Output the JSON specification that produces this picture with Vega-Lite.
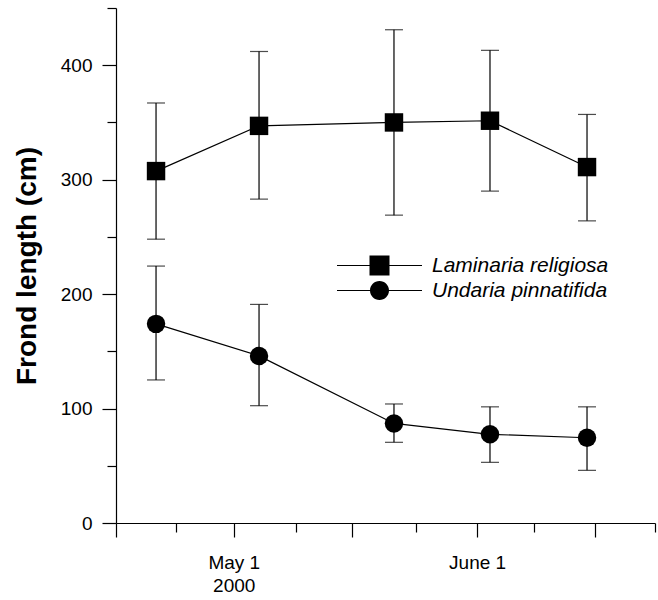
{
  "$schema": "https://vega.github.io/schema/vega-lite/v6.json",
  "autosize": "none",
  "width": 539,
  "height": 515,
  "padding": {"left": 116, "top": 8, "right": 3, "bottom": 77},
  "background": "white",
  "config": {
    "view": {"stroke": null},
    "axis": {"grid": false, "domainColor": "black", "domainWidth": 1.2, "tickColor": "black", "tickWidth": 1.2, "labelFont": "Liberation Sans", "labelColor": "black", "titleFont": "Liberation Sans", "titleColor": "black"}
  },
  "data": {"values": [
    {"species": "Laminaria religiosa", "date": "2000-04-21T02:24:00Z", "mean": 307.5, "lo": 248, "hi": 367},
    {"species": "Laminaria religiosa", "date": "2000-05-04T05:17:00Z", "mean": 347, "lo": 283, "hi": 412},
    {"species": "Laminaria religiosa", "date": "2000-05-21T09:50:00Z", "mean": 350, "lo": 269, "hi": 431},
    {"species": "Laminaria religiosa", "date": "2000-06-02T15:22:00Z", "mean": 351.5, "lo": 290, "hi": 413},
    {"species": "Laminaria religiosa", "date": "2000-06-15T00:00:00Z", "mean": 311, "lo": 264, "hi": 357},
    {"species": "Undaria pinnatifida", "date": "2000-04-21T02:24:00Z", "mean": 174, "lo": 125, "hi": 224.5},
    {"species": "Undaria pinnatifida", "date": "2000-05-04T05:17:00Z", "mean": 146, "lo": 102.5, "hi": 191},
    {"species": "Undaria pinnatifida", "date": "2000-05-21T09:50:00Z", "mean": 87, "lo": 70.5, "hi": 104},
    {"species": "Undaria pinnatifida", "date": "2000-06-02T15:22:00Z", "mean": 77.5, "lo": 53, "hi": 101.5},
    {"species": "Undaria pinnatifida", "date": "2000-06-15T00:00:00Z", "mean": 74.5, "lo": 46, "hi": 101.5}
  ]},
  "encoding": {
    "x": {
      "field": "date", "type": "temporal",
      "scale": {"type": "utc", "domain": [{"year": 2000, "month": 4, "date": 16, "utc": true}, {"year": 2000, "month": 6, "date": 23, "hours": 15, "minutes": 50, "utc": true}]},
      "axis": null
    }
  },
  "resolve": {"axis": {"x": "independent", "y": "independent"}},
  "layer": [
    {
      "mark": {"type": "line", "color": "black", "strokeWidth": 1.2},
      "encoding": {
        "x": {
          "field": "date", "type": "temporal",
          "scale": {"type": "utc", "domain": [{"year": 2000, "month": 4, "date": 16, "utc": true}, {"year": 2000, "month": 6, "date": 23, "hours": 15, "minutes": 50, "utc": true}]},
          "axis": {
            "orient": "bottom",
            "title": null,
            "values": [
              {"year": 2000, "month": 4, "date": 16, "utc": true},
              {"year": 2000, "month": 5, "date": 1, "utc": true},
              {"year": 2000, "month": 5, "date": 16, "utc": true},
              {"year": 2000, "month": 6, "date": 1, "utc": true},
              {"year": 2000, "month": 6, "date": 16, "utc": true}
            ],
            "labelExpr": "utcmonth(datum.value)==4 && utcdate(datum.value)==1 ? ['May 1','2000'] : (utcmonth(datum.value)==5 && utcdate(datum.value)==1 ? 'June 1' : '')",
            "tickSize": 14,
            "labelFontSize": 19,
            "labelPadding": 16,
            "labelLineHeight": 23,
            "labelFlush": false,
            "labelOverlap": false
          }
        },
        "y": {
          "field": "mean", "type": "quantitative",
          "scale": {"domain": [0, 450], "nice": false},
          "axis": {
            "orient": "left",
            "title": "Frond length (cm)",
            "titleFontSize": 28,
            "titleFontWeight": "bold",
            "titlePadding": 19,
            "values": [0, 100, 200, 300, 400],
            "tickSize": 14,
            "labelFontSize": 19,
            "labelPadding": 10,
            "labelFlush": false,
            "labelOverlap": false
          }
        },
        "detail": {"field": "species"}
      }
    },
    {
      "transform": [{"filter": "false"}],
      "mark": {"type": "point", "opacity": 0},
      "encoding": {
        "x": {
          "field": "date", "type": "temporal",
          "scale": {"type": "utc", "domain": [{"year": 2000, "month": 4, "date": 16, "utc": true}, {"year": 2000, "month": 6, "date": 23, "hours": 15, "minutes": 50, "utc": true}]},
          "axis": {
            "orient": "bottom",
            "title": null,
            "domain": false,
            "labels": false,
            "tickSize": 9,
            "values": [
              {"year": 2000, "month": 4, "date": 23, "hours": 15, "minutes": 22, "utc": true},
              {"year": 2000, "month": 5, "date": 8, "hours": 22, "minutes": 19, "utc": true},
              {"year": 2000, "month": 5, "date": 24, "hours": 5, "minutes": 17, "utc": true},
              {"year": 2000, "month": 6, "date": 8, "hours": 6, "utc": true},
              {"year": 2000, "month": 6, "date": 23, "hours": 15, "minutes": 50, "utc": true}
            ]
          }
        },
        "y": {
          "field": "mean", "type": "quantitative",
          "scale": {"domain": [0, 450], "nice": false},
          "axis": {
            "orient": "left",
            "title": null,
            "domain": false,
            "labels": false,
            "tickSize": 9,
            "values": [50, 150, 250, 350, 450]
          }
        }
      }
    },
    {
      "mark": {"type": "rule", "color": "black", "strokeWidth": 1.2},
      "encoding": {"y": {"field": "lo", "type": "quantitative", "axis": null}, "y2": {"field": "hi"}}
    },
    {
      "mark": {"type": "tick", "orient": "horizontal", "size": 18, "thickness": 1.2, "color": "black"},
      "encoding": {"y": {"field": "lo", "type": "quantitative", "axis": null}}
    },
    {
      "mark": {"type": "tick", "orient": "horizontal", "size": 18, "thickness": 1.2, "color": "black"},
      "encoding": {"y": {"field": "hi", "type": "quantitative", "axis": null}}
    },
    {
      "mark": {"type": "point", "filled": true, "color": "black", "opacity": 1, "size": 340},
      "encoding": {
        "y": {"field": "mean", "type": "quantitative", "axis": null},
        "shape": {"condition": {"test": "datum.species == 'Laminaria religiosa'", "value": "square"}, "value": "circle"}
      }
    },
    {
      "transform": [{"filter": "false"}],
      "mark": {"type": "point", "filled": true, "color": "black"},
      "encoding": {
        "y": {"field": "mean", "type": "quantitative", "axis": null},
        "shape": {
          "field": "species", "type": "nominal",
          "scale": {"domain": ["Laminaria religiosa", "Undaria pinnatifida"], "range": ["M-4.25,-0.05H4.25V0.05H-4.25ZM-1,-1H1V1H-1Z", "M-4.25,-0.05H4.25V0.05H-4.25ZM0.95,0A0.95,0.95,0,1,1,-0.95,0A0.95,0.95,0,1,1,0.95,0Z"]},
          "legend": {
            "title": null,
            "orient": "none",
            "legendX": 253,
            "legendY": 247,
            "padding": 0,
            "symbolSize": 400,
            "symbolFillColor": "black",
            "symbolStrokeColor": "black",
            "symbolStrokeWidth": 0,
            "symbolOpacity": 1,
            "labelFont": "Liberation Sans",
            "labelFontSize": 21,
            "labelFontStyle": "italic",
            "labelColor": "black",
            "labelOffset": 42,
            "labelLimit": 400,
            "rowPadding": 3
          }
        }
      }
    }
  ]
}
